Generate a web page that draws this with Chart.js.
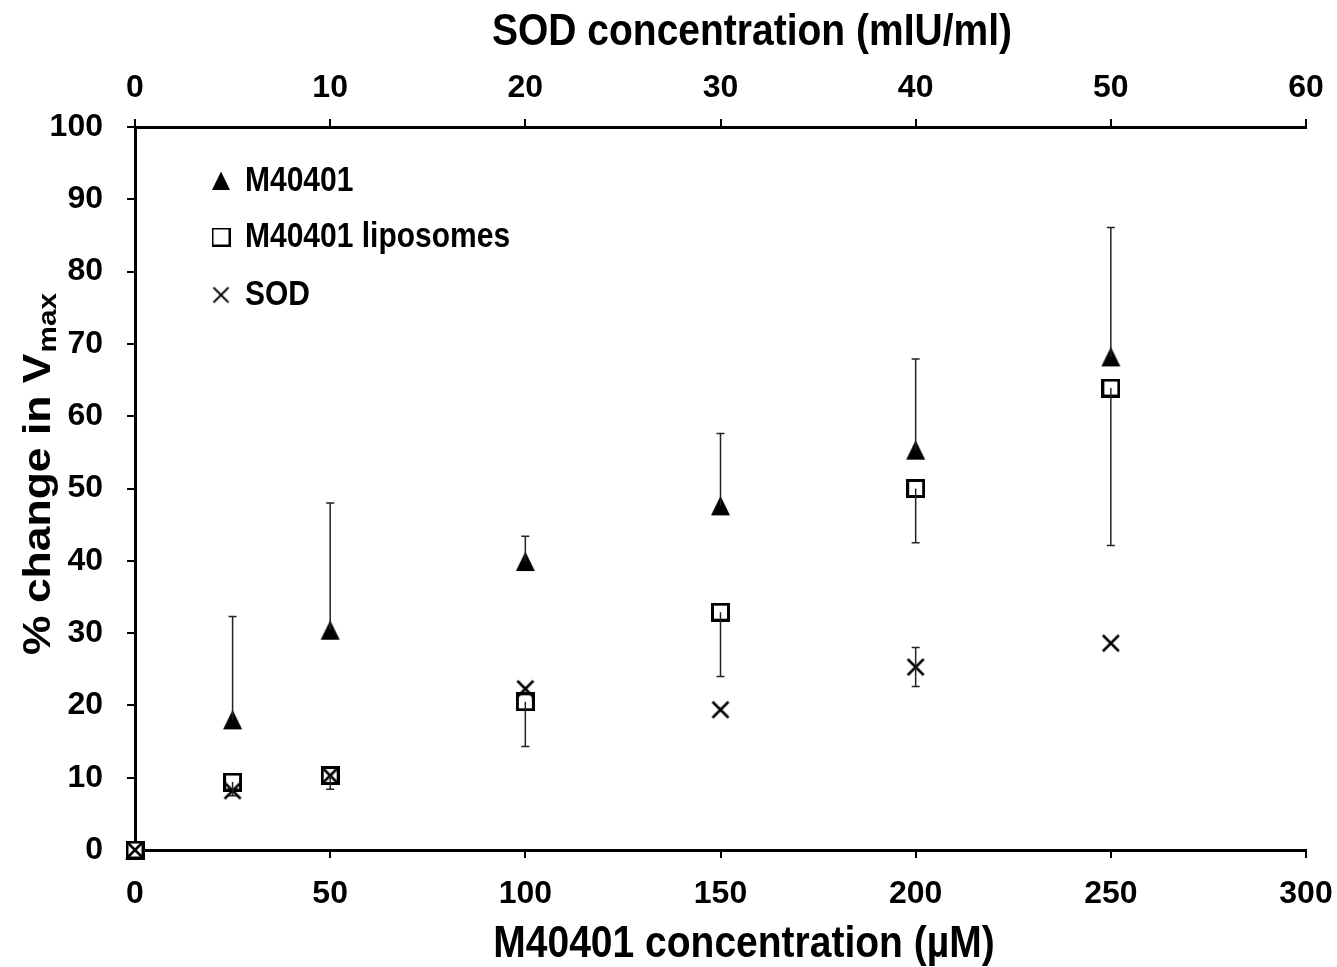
<!DOCTYPE html>
<html>
<head>
<meta charset="utf-8">
<script src="https://cdn.jsdelivr.net/npm/chart.js@4.4.0/dist/chart.umd.min.js"></script>
<style>
  body { margin: 0; background: #fff; }
</style>
</head>
<body>
<canvas id="vmaxChart" width="1337" height="967"></canvas>
<script>
// M40401 concentration (uM) on the bottom axis; SOD (mIU/ml) = uM / 5 on the top axis
var concentrations = [0, 25, 50, 100, 150, 200, 250];

var m40401 = [0, 18.0, 30.4, 39.9, 47.6, 55.3, 68.2];
var m40401ErrUp = [0, 14.3, 17.6, 3.5, 10.0, 12.6, 17.9];

var liposomes = [0, 9.4, 10.3, 20.5, 32.9, 50.0, 63.9];
var liposomesErrDown = [0, 1.9, 1.9, 6.2, 8.9, 7.5, 21.8];

var sod = [0, 8.2, 10.3, 22.3, 19.4, 25.3, 28.6];
var sodErr = [0, 0, 0, 0, 0, 2.7, 0];

var legendNames = ["M40401", "M40401 liposomes", "SOD"];

var FONT = '"Liberation Sans", Arial, sans-serif';
var TALL = 1.14; // the original picture is a bit stretched vertically

function makeMarker(kind, size, lw) {
  var c = document.createElement('canvas');
  c.width = size; c.height = size;
  var g = c.getContext('2d');
  g.strokeStyle = '#000';
  g.fillStyle = '#000';
  g.lineWidth = lw;
  if (kind == 'triangle') {
    g.beginPath();
    g.moveTo(size / 2, 0.5);
    g.lineTo(size - 1, size - 1);
    g.lineTo(1, size - 1);
    g.closePath();
    g.fill();
  } else if (kind == 'square') {
    g.fillStyle = '#fff';
    g.fillRect(lw / 2, lw / 2, size - lw, size - lw);
    g.strokeRect(lw / 2, lw / 2, size - lw, size - lw);
  } else {
    var p = 2;
    g.beginPath();
    g.moveTo(p, p); g.lineTo(size - p, size - p);
    g.moveTo(size - p, p); g.lineTo(p, size - p);
    g.stroke();
  }
  return c;
}

var triMark = makeMarker('triangle', 21, 0);
var sqMark = makeMarker('square', 19, 3);
var crossMark = makeMarker('cross', 20, 2.5);

var legendMarks = [makeMarker('triangle', 20, 0), makeMarker('square', 19, 2), makeMarker('cross', 19, 1.8)];

function pts(ys) {
  return concentrations.map(function (x, i) { return { x: x, y: ys[i] } })
}

var errorBars = {
  id: 'errorBars',
  afterDatasetsDraw: function (chart) {
    var ctx = chart.ctx;
    var xs = chart.scales.x, ys = chart.scales.y;
    var sets = [
      [m40401, m40401ErrUp, 'up'],
      [liposomes, liposomesErrDown, 'down'],
      [sod, sodErr, 'both']
    ];
    ctx.save();
    ctx.strokeStyle = '#222';
    ctx.lineWidth = 1.5;
    sets.forEach(function (s) {
      for (var i = 0; i < concentrations.length; i++) {
        var e = s[1][i];
        if (!e) continue;
        var px = xs.getPixelForValue(concentrations[i]);
        var hi = s[2] == 'down' ? s[0][i] : s[0][i] + e;
        var lo = s[2] == 'up' ? s[0][i] : s[0][i] - e;
        var yHi = ys.getPixelForValue(hi), yLo = ys.getPixelForValue(lo);
        ctx.beginPath();
        ctx.moveTo(px, yHi); ctx.lineTo(px, yLo);
        if (s[2] != 'down') { ctx.moveTo(px - 4, yHi); ctx.lineTo(px + 4, yHi) }
        if (s[2] != 'up') { ctx.moveTo(px - 4, yLo); ctx.lineTo(px + 4, yLo) }
        ctx.stroke();
      }
    });
    ctx.restore();
  }
};

function tallText(ctx, text, x, y) {
  ctx.save();
  ctx.translate(x, y);
  ctx.scale(1, TALL);
  ctx.fillText(text, 0, 0);
  ctx.restore();
}

var titlesAndLegend = {
  id: 'titlesAndLegend',
  afterDraw: function (chart) {
    var ctx = chart.ctx;
    ctx.save();
    ctx.fillStyle = '#000';
    ctx.textAlign = 'center';
    ctx.textBaseline = 'middle';
    ctx.font = 'bold 39px ' + FONT;
    tallText(ctx, 'SOD concentration (mIU/ml)', 752, 33);
    tallText(ctx, 'M40401 concentration (\u00b5M)', 744, 945);

    // y title with subscript
    ctx.save();
    ctx.translate(50, 655);
    ctx.rotate(-Math.PI / 2);
    ctx.scale(TALL, 1);
    ctx.textAlign = 'left';
    ctx.textBaseline = 'alphabetic';
    ctx.font = 'bold 39px ' + FONT;
    var main = '% change in V';
    ctx.fillText(main, 0, 0);
    var w = ctx.measureText(main).width;
    ctx.font = 'bold 26px ' + FONT;
    ctx.fillText('max', w + 1, 6);
    ctx.restore();

    // legend
    var rows = [181, 237, 295];
    ctx.textAlign = 'left';
    ctx.font = 'bold 30px ' + FONT;
    rows.forEach(function (ry, i) {
      var m = legendMarks[i];
      ctx.drawImage(m, 221 - m.width / 2, ry - m.height / 2);
      tallText(ctx, legendNames[i], 245, ry + 1);
    });
    ctx.restore();
  }
};

function axisStyle(pos, min, max, step, size) {
  return {
    type: 'linear',
    position: pos,
    min: min,
    max: max,
    ticks: {
      stepSize: step,
      color: '#000',
      font: { family: FONT, size: 32, weight: 'bold' },
      padding: pos == 'left' ? 24 : (pos == 'bottom' ? 17 : 12)
    },
    grid: {
      drawOnChartArea: false,
      color: '#000',
      lineWidth: 2,
      tickLength: 8
    },
    border: { color: '#000', width: 3 },
    afterFit: function (s) {
      if (pos == 'left') s.width = size; else s.height = size;
      s.paddingLeft = 0; s.paddingRight = 0;
      s.paddingTop = 0; s.paddingBottom = 0;
    }
  }
}

var vmaxChart = new Chart(document.getElementById('vmaxChart').getContext('2d'), {
  type: 'scatter',
  data: {
    datasets: [
      { label: legendNames[0], data: pts(m40401), pointStyle: triMark, pointRadius: 10, order: 2, clip: false },
      { label: legendNames[1], data: pts(liposomes), pointStyle: sqMark, pointRadius: 10, order: 1, clip: false },
      { label: legendNames[2], data: pts(sod), pointStyle: crossMark, pointRadius: 10, order: 0, clip: false }
    ]
  },
  options: {
    responsive: false,
    animation: false,
    layout: { padding: { left: 0, right: 31, top: 0, bottom: 0 } },
    plugins: {
      legend: { display: false },
      tooltip: { enabled: false }
    },
    scales: {
      x: axisStyle('bottom', 0, 300, 50, 117),
      x2: axisStyle('top', 0, 60, 10, 127),
      y: axisStyle('left', 0, 100, 10, 135)
    }
  },
  plugins: [errorBars, titlesAndLegend]
});
</script>
</body>
</html>
